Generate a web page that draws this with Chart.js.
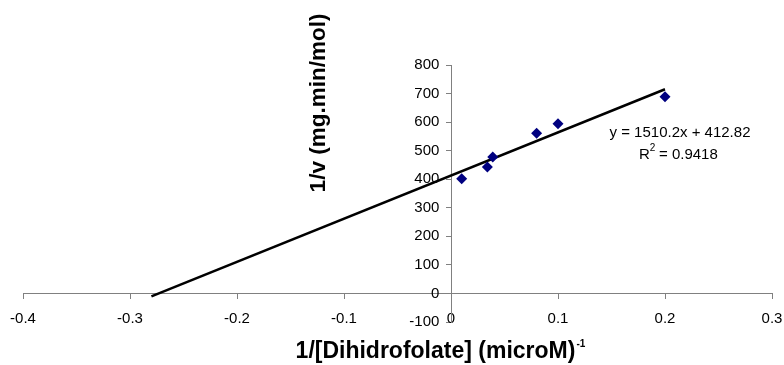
<!DOCTYPE html>
<html>
<head>
<meta charset="utf-8">
<script src="https://cdn.jsdelivr.net/npm/chart.js@4"></script>
<style>
  body { margin: 0; background: #fff; }
</style>
</head>
<body>
<canvas id="myChart" width="784" height="365"></canvas>
<script>
// measured points (1/[S], 1/v)
var xs = [0.01, 0.034, 0.039, 0.08, 0.1, 0.2];
var ys = [402, 443, 478, 561, 594, 689];
// trendline ends, as drawn by the spreadsheet
var trendX = [-0.28, 0.2];
var trendY = [-10, 715];
var xTicks = [-0.4, -0.3, -0.2, -0.1, 0, 0.1, 0.2, 0.3];
var yTicks = [-100, 0, 100, 200, 300, 400, 500, 600, 700, 800];
var eqText = 'y = 1510.2x + 412.82';
var r2Text = '0.9418';

var pts = [];
for (var i = 0; i < xs.length; i++) pts.push({x: xs[i], y: ys[i]});
var trend = [];
for (var j = 0; j < trendX.length; j++) trend.push({x: trendX[j], y: trendY[j]});

var FONT = '"Liberation Sans", Arial, sans-serif';

// axis titles + equation box, drawn on the canvas after the chart
var textPlugin = {
  id: 'texts',
  afterDraw: function(chart) {
    var ctx = chart.ctx;
    ctx.save();
    ctx.fillStyle = '#000';

    // y title
    ctx.save();
    ctx.translate(319, 103);
    ctx.rotate(-Math.PI / 2);
    ctx.font = 'bold 22.5px ' + FONT;
    ctx.textAlign = 'center';
    ctx.textBaseline = 'middle';
    ctx.fillText('1/v (mg.min/mol)', 0, 0);
    ctx.restore();

    // x title with superscript
    ctx.font = 'bold 23px ' + FONT;
    ctx.textBaseline = 'alphabetic';
    ctx.textAlign = 'left';
    var main = '1/[Dihidrofolate] (microM)';
    var w = ctx.measureText(main).width;
    var x0 = 439 - (w + 7) / 2;
    ctx.fillText(main, x0, 358);
    ctx.font = 'bold 10px ' + FONT;
    ctx.fillText('-1', x0 + w + 1, 347);

    // trendline equation
    ctx.font = '15px ' + FONT;
    ctx.textAlign = 'center';
    ctx.textBaseline = 'middle';
    ctx.fillText(eqText, 680, 133);
    ctx.textAlign = 'left';
    ctx.fillText('R', 639, 155);
    var rw = ctx.measureText('R').width;
    ctx.font = '10px ' + FONT;
    ctx.fillText('2', 639 + rw, 148);
    ctx.font = '15px ' + FONT;
    ctx.fillText(' = ' + r2Text, 639 + rw + 5, 155);
    ctx.restore();
  }
};

var ctx = document.getElementById('myChart').getContext('2d');
var myChart = new Chart(ctx, {
  type: 'scatter',
  data: {
    datasets: [{
      label: 'data',
      data: pts,
      pointStyle: 'rectRot',
      pointRadius: 5.5,
      pointHoverRadius: 5.5,
      backgroundColor: '#000080',
      borderColor: '#000080',
      borderWidth: 0,
      order: 1
    }, {
      label: 'trend',
      data: trend,
      showLine: true,
      pointRadius: 0,
      borderColor: '#000',
      borderWidth: 2.5,
      order: 2
    }]
  },
  options: {
    responsive: false,
    animation: false,
    layout: { padding: { left: 23, right: 12, top: 65, bottom: 43 } },
    plugins: {
      legend: { display: false },
      tooltip: { enabled: false }
    },
    scales: {
      x: {
        type: 'linear',
        position: { y: 0 },
        min: -0.4,
        max: 0.3,
        afterBuildTicks: function(s) { s.ticks = xTicks.map(function(v) { return {value: v}; }); },
        afterFit: function(s) { s.paddingLeft = 0; s.paddingRight = 0; },
        ticks: {
          color: '#000',
          font: { family: FONT, size: 15 },
          padding: 11,
          maxRotation: 0,
          callback: function(v) { return String(Math.round(v * 10) / 10); }
        },
        grid: { drawOnChartArea: false, drawTicks: true, tickLength: 5, color: '#808080' },
        border: { color: '#808080', width: 1 }
      },
      y: {
        type: 'linear',
        position: { x: 0 },
        min: -100,
        max: 800,
        afterBuildTicks: function(s) { s.ticks = yTicks.map(function(v) { return {value: v}; }); },
        ticks: {
          color: '#000',
          font: { family: FONT, size: 15 },
          // centred axis ignores padding, so push labels off the axis with spaces
          callback: function(v) { return v + '\u2002 '; }
        },
        grid: { drawOnChartArea: false, drawTicks: true, tickLength: 5, color: '#808080' },
        border: { color: '#808080', width: 1 }
      }
    }
  },
  plugins: [textPlugin]
});
</script>
</body>
</html>
